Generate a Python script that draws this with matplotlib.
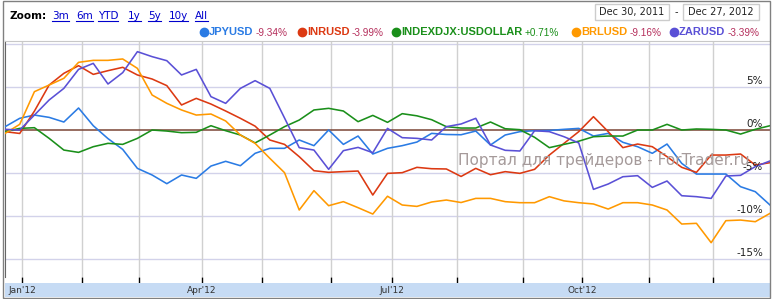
import numpy as np
import matplotlib
matplotlib.use('Agg')
import matplotlib.pyplot as plt
from matplotlib.patches import Rectangle
from matplotlib.lines import Line2D
from matplotlib import transforms

W, H = 773, 299

# weekly % change since Dec 30, 2011
weeks = np.arange(53)

jpy = [0.38, 1.36, 1.74, 1.47, 0.93, 2.56, 0.5, -1.0, -2.25, -4.46,
       -5.23, -6.24, -5.23, -5.62, -4.19, -3.64, -4.15, -2.71, -2.13, -2.13,
       -1.16, -1.82, 0.0, -1.67, -0.70, -2.79, -2.13, -1.82, -1.40, -0.39,
       -0.52, -0.55, -0.12, -1.74, -0.58, -0.19, -0.08, -0.05, 0.08, 0.19,
       -0.70, -0.39, -1.43, -1.94, -2.71, -1.63, -3.88, -5.12, -5.12, -5.12,
       -6.59, -7.17, -8.72]
inr = [-0.19, -0.4, 2.2, 5.23, 6.59, 7.48, 6.47, 6.9, 7.29, 6.4,
       5.93, 5.16, 2.91, 3.68, 3.02, 2.21, 1.36, 0.45, -1.16, -1.67,
       -3.1, -4.73, -4.92, -4.84, -4.77, -7.56, -5.04, -4.96, -4.34, -4.5,
       -4.53, -5.4, -4.46, -5.2, -4.84, -5.04, -4.57, -2.91, -1.55, -0.19,
       1.55, -0.19, -2.05, -1.63, -1.94, -3.1, -4.34, -4.92, -2.91, -2.91,
       -2.79, -4.07, -3.8]
dxy = [-0.19, 0.19, 0.27, -0.97, -2.33, -2.6, -1.94, -1.55, -1.67, -0.97,
       0.0, -0.12, -0.31, -0.27, 0.5, -0.08, -0.58, -1.5, -0.58, 0.39,
       1.16, 2.33, 2.52, 2.21, 0.97, 1.7, 0.89, 1.9, 1.65, 1.2,
       0.39, 0.23, 0.23, 0.93, 0.15, 0.04, -0.85, -2.05, -1.67, -1.3,
       -0.78, -0.70, -0.70, 0.0, 0.0, 0.66, 0.0, 0.12, 0.08, 0.0,
       -0.47, 0.08, 0.5]
brl = [-0.4, 0.66, 4.46, 5.23, 6.01, 7.87, 8.1, 8.1, 8.26, 7.17,
       4.07, 3.1, 2.33, 1.74, 1.86, 1.05, -0.58, -1.55, -3.29, -4.96,
       -9.3, -7.05, -8.8, -8.33, -9.03, -9.77, -7.7, -8.72, -8.88, -8.37,
       -8.14, -8.43, -7.95, -7.95, -8.33, -8.45, -8.45, -7.75, -8.24, -8.45,
       -8.6, -9.19, -8.45, -8.45, -8.72, -9.3, -10.93, -10.85, -13.1, -10.54,
       -10.47, -10.66, -9.69]
zar = [0.08, 0.0, 1.74, 3.49, 4.84, 7.05, 7.75, 5.35, 6.67, 9.11,
       8.53, 8.06, 6.4, 7.05, 3.88, 3.1, 4.84, 5.74, 4.84, 1.4,
       -2.05, -2.33, -4.57, -2.4, -2.02, -2.64, 0.19, -0.89, -0.97, -1.16,
       0.39, 0.7, 1.36, -1.74, -2.36, -2.44, -0.08, -0.19, -0.78, -1.5,
       -6.9, -6.28, -5.43, -5.31, -6.67, -5.93, -7.64, -7.75, -7.95, -5.35,
       -5.27, -4.26, -3.6]

names = ['JPYUSD', 'INRUSD', 'INDEXDJX:USDOLLAR', 'BRLUSD', 'ZARUSD']
changes = ['-9.34%', '-3.99%', '+0.71%', '-9.16%', '-3.39%']
colors = ['#2a7be4', '#dc3912', '#1a8f1a', '#ff9900', '#5a50d6']
series = [jpy, inr, dxy, brl, zar]

# month gridlines (in weeks) and labels for the bottom strip
grid_weeks = [1.16, 5.23, 9.11, 13.39, 17.47, 22.16, 26.31, 30.73, 35.21, 39.22, 43.78, 48.13]
nav_labels = ["Jan'12", "Apr'12", "Jul'12", "Oct'12"]
nav_idx = [0, 3, 6, 9]
ytick_vals = [10, 5, 0, -5, -10, -15]

zoom_links = ['3m', '6m', 'YTD', '1y', '5y', '10y', 'All']
link_x = [52, 76, 98, 128, 148, 169, 195]


def fx(px):
    return px / W


def fy(py):
    return 1 - py / H


fig = plt.figure(figsize=(W / 100, H / 100), dpi=100)

##### main plot #####
ax = fig.add_axes([fx(5), fy(277), 765 / W, (277 - 41) / H])
ax.set_xlim(0, 52)
ax.set_ylim(-17.09, 10.35)

for v in ytick_vals:
    if v != 0:
        ax.axhline(v, color='#d2d2ea', lw=1, zorder=1)
for g in grid_weeks:
    ax.axvline(g, color='#d0d0d0', lw=1, zorder=1)
ax.axhline(0, color='#7a4535', lw=1.1, zorder=2)

for s, c in zip(series, colors):
    ax.plot(weeks, s, color=c, lw=1.15, zorder=3)

# y labels inside, right aligned, sitting on the gridlines
trans = transforms.blended_transform_factory(ax.transAxes, ax.transData)
for v in ytick_vals:
    ax.text(1 - 7 / 765, v + 0.15, '%d%%' % v, transform=trans, ha='right',
            va='bottom', fontsize=7.5, color='#222222', family='DejaVu Sans',
            zorder=4, clip_on=True)

ax.text(0.592, 0.495, 'Портал для трейдеров - ForTrader.ru', transform=ax.transAxes,
        fontsize=11, color='#a59a9a', family='DejaVu Sans', ha='left',
        va='center', zorder=5)

ax.set_xticks(grid_weeks)
ax.set_yticks([])
ax.tick_params(axis='x', length=4, width=1, color='black', labelbottom=False)
for side in ['right', 'bottom']:
    ax.spines[side].set_visible(False)
ax.spines['top'].set_color('#c8c8c8')
ax.spines['left'].set_color('#666666')

##### navigator strip #####
nav = fig.add_axes([fx(5), fy(297), 765 / W, 14 / H])
nav.set_xlim(0, 52)
nav.set_facecolor('#c6dbf4')
nav.set_xticks([])
nav.set_yticks([])
for side in nav.spines:
    nav.spines[side].set_visible(False)
for i, lab in zip(nav_idx, nav_labels):
    nav.text(grid_weeks[i], 0.45, lab, ha='center', va='center', fontsize=6.5,
             color='#333333', family='DejaVu Sans')

##### header #####
fig.text(fx(9), fy(16), 'Zoom:', fontsize=7.5, weight='bold', va='center',
         family='DejaVu Sans', color='black')
fig.canvas.draw()
renderer = fig.canvas.get_renderer()
for lab, x in zip(zoom_links, link_x):
    t = fig.text(fx(x), fy(16), lab, fontsize=7.5, va='center',
                 family='DejaVu Sans', color='#0000cc')
    bb = t.get_window_extent(renderer)
    fig.add_artist(Line2D([fx(bb.x0), fx(bb.x1)], [fy(21), fy(21)],
                          transform=fig.transFigure, color='#0000cc', lw=0.8))

# date range boxes
for x0, x1, lab in [(595, 669, 'Dec 30, 2011'), (683, 759, 'Dec 27, 2012')]:
    fig.add_artist(Rectangle((fx(x0), fy(20)), (x1 - x0) / W, 16 / H,
                             transform=fig.transFigure, facecolor='white',
                             edgecolor='#cccccc', lw=1))
    fig.text(fx((x0 + x1) / 2), fy(12), lab, fontsize=7, ha='center',
             va='center', family='DejaVu Sans', color='#222222')
fig.text(fx(676), fy(12), '-', fontsize=7, ha='center', va='center', color='#222222')

# legend row
leg_x = [200, 298, 392, 572, 670]
for x, n, ch, c in zip(leg_x, names, changes, colors):
    fig.add_artist(Line2D([fx(x + 4)], [fy(32)], transform=fig.transFigure,
                          marker='o', ms=6, color=c, mec=c))
    t = fig.text(fx(x + 9), fy(32), n, fontsize=8, weight='bold', color=c,
                 va='center', family='Liberation Sans')
    bb = t.get_window_extent(renderer)
    pc = '#1a8f1a' if ch.startswith('+') else '#b52f5c'
    fig.text(fx(bb.x1 + 2), fy(32.5), ch, fontsize=7.2, color=pc, va='center',
             family='Liberation Sans')

# outer frame
fig.add_artist(Rectangle((fx(3), fy(298)), 767 / W, 297.5 / H,
                         transform=fig.transFigure, fill=False,
                         edgecolor='#808080', lw=1))

fig.savefig('out.png', dpi=100)
